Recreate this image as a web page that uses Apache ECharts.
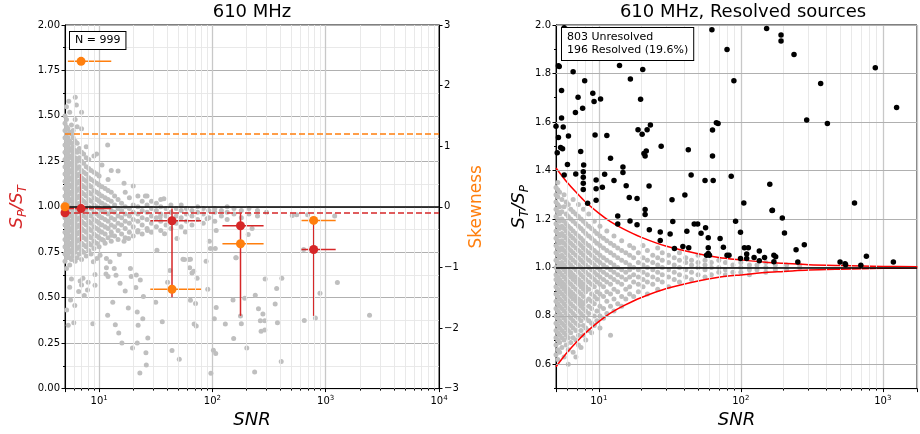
<!DOCTYPE html>
<html><head><meta charset="utf-8">
<script src="https://cdn.jsdelivr.net/npm/echarts@6/dist/echarts.min.js"></script>
<style>html,body{margin:0;padding:0;background:#fff}#c{width:920px;height:434px}</style>
</head><body><div id="c"></div>
<script>
// ---------------- DATA ----------------
// Left panel: S_P/S_T vs SNR, all 999 sources (gray), read column by column
const leftGrayX = [5.0,5.15,5.3,5.5,5.7,5.9,6.15,6.4,6.7,7.0,7.3,7.7,8.1,8.5,9.0,9.5,10.0,10.6,11.3,12.0,12.8,13.7,14.7,15.8,17,18.5,20,22,24,26.5,29,32,35,39,43,48,53,59,66,74,83,93,105,120,135,155,180,210,250,300];
const leftGrayY = [
 [0.70,0.74,0.78,0.82,0.86,0.90,0.94,0.98,1.02,1.06,1.10,1.14,1.18,1.22,1.26,1.30,1.34,1.38,1.42,1.46,1.50],
 [0.66,0.72,0.76,0.80,0.84,0.88,0.92,0.96,1.00,1.04,1.08,1.12,1.16,1.20,1.24,1.28,1.32,1.36,1.40,1.44,1.48,1.55],
 [0.74,0.78,0.82,0.86,0.90,0.94,0.98,1.02,1.06,1.10,1.14,1.18,1.22,1.26,1.30,1.34,1.38,1.43],
 [0.68,0.72,0.76,0.80,0.84,0.88,0.92,0.96,1.00,1.04,1.08,1.12,1.16,1.20,1.24,1.28,1.32,1.36,1.41,1.52],
 [0.71,0.75,0.79,0.83,0.87,0.91,0.95,0.99,1.03,1.07,1.11,1.15,1.19,1.23,1.27,1.31,1.35,1.40,1.45],
 [0.73,0.77,0.81,0.85,0.89,0.93,0.97,1.01,1.05,1.09,1.13,1.17,1.21,1.25,1.29,1.33,1.38,1.42],
 [0.70,0.75,0.79,0.83,0.87,0.91,0.95,0.99,1.03,1.07,1.11,1.15,1.19,1.23,1.27,1.31,1.36,1.48],
 [0.72,0.77,0.81,0.85,0.89,0.93,0.97,1.01,1.05,1.09,1.13,1.17,1.21,1.25,1.30,1.35,1.44],
 [0.74,0.78,0.82,0.86,0.90,0.94,0.98,1.02,1.06,1.10,1.14,1.18,1.22,1.27,1.32],
 [0.71,0.76,0.80,0.84,0.88,0.92,0.96,1.00,1.04,1.08,1.12,1.16,1.20,1.25,1.30,1.43,1.52],
 [0.75,0.79,0.83,0.87,0.91,0.95,0.99,1.03,1.07,1.11,1.15,1.19,1.24,1.29],
 [0.73,0.78,0.82,0.86,0.90,0.94,0.98,1.02,1.06,1.10,1.14,1.18,1.22,1.27,1.33],
 [0.76,0.80,0.84,0.88,0.92,0.96,1.00,1.04,1.08,1.12,1.16,1.21,1.26],
 [0.74,0.79,0.83,0.87,0.91,0.95,0.99,1.03,1.07,1.11,1.15,1.20],
 [0.77,0.81,0.85,0.89,0.93,0.97,1.01,1.05,1.09,1.14,1.19,1.28],
 [0.80,0.84,0.88,0.92,0.96,1.00,1.04,1.08,1.13,1.18,1.29],
 [0.78,0.83,0.87,0.91,0.95,0.99,1.03,1.07,1.12,1.17],
 [0.82,0.86,0.90,0.94,0.98,1.02,1.06,1.11,1.23],
 [0.80,0.85,0.89,0.93,0.97,1.01,1.05,1.10],
 [0.83,0.88,0.92,0.96,1.00,1.04,1.09,1.15],
 [0.81,0.86,0.90,0.94,0.98,1.03,1.08,1.20],
 [0.84,0.89,0.93,0.97,1.01,1.06],
 [0.82,0.87,0.91,0.95,0.99,1.04],
 [0.85,0.90,0.94,0.98,1.02],
 [0.83,0.88,0.92,0.96,1.00,1.08],
 [0.86,0.91,0.95,0.99,1.05],
 [0.84,0.89,0.93,0.97,1.01],
 [0.87,0.92,0.96,1.00,1.06],
 [0.85,0.90,0.94,0.98,1.03],
 [0.88,0.93,0.97,1.01,1.06],
 [0.86,0.91,0.95,0.99,1.03],
 [0.89,0.94,0.98,1.02],
 [0.87,0.92,0.96,1.00,1.04],
 [0.90,0.95,0.99],
 [0.88,0.93,0.97,1.01],
 [0.91,0.95,0.99],
 [0.89,0.94,0.98,1.01],
 [0.92,0.96,0.99],
 [0.90,0.95,0.98],
 [0.93,0.97,1.00],
 [0.91,0.96,0.99],
 [0.94,0.98],
 [0.92,0.97,0.99],
 [0.95,0.98],
 [0.93,0.97,1.00],
 [0.96,0.99],
 [0.94,0.98],
 [0.96,0.99],
 [0.95,0.98],
 [0.97]
];
const leftGrayScatter = [
 [5.17,0.433],[5.34,0.348],[5.98,0.362],[5.6,0.488],[6.1,0.457],[5.5,0.557],[5.7,0.603],[6.8,0.592],[7.0,0.57],[6.6,0.534],
 [7.4,0.512],[7.9,0.543],[8.8,0.357],[8.0,0.585],[9.2,0.568],[9.2,0.627],[9.55,0.716],[11.6,0.716],[11.9,0.403],[13.2,0.475],
 [11.6,0.665],[11.5,0.63],[14.1,0.623],[13.9,0.351],[14.9,0.306],[15.9,0.251],[18.1,0.443],[17.0,0.537],[19.2,0.617],[21.1,0.556],
 [21.7,0.421],[22.1,0.348],[19.7,0.224],[21.7,0.251],[22.9,0.086],[25.9,0.197],[26.1,0.13],[26.9,0.279],[24.3,0.384],[23.1,0.597],
 [24.6,0.507],[31.6,0.475],[36.1,0.368],[40.2,0.585],[44,0.209],[51,0.162],[42.2,0.65],[55,0.712],[64,0.712],[63,0.665],
 [66,0.636],[64,0.486],[71,0.468],[69,0.355],[72,0.344],[97,0.084],[102,0.211],[107,0.193],[104,0.384],[108,0.446],
 [91,0.546],[94,0.81],[96,0.77],[130,0.355],[152,0.488],[154,0.275],[161,0.72],[193,0.497],[201,0.224],[177,0.40],
 [180,0.357],[207,0.847],[239,0.514],[255,0.439],[265,0.373],[279,0.411],[290,0.373],[290,0.322],[269,0.315],[236,0.091],
 [292,0.603],[358,0.466],[369,0.55],[375,0.362],[405,0.149],[410,0.607],[647,0.375],[639,0.765],[811,0.388],[890,0.525],
 [1268,0.583],[2437,0.403],[507,0.952],[555,0.956],[692,0.956],[1200,0.949],
 [10.9,0.816],[12.9,0.843],[16.6,0.81],[18.2,0.825],[21.9,0.862],[26.7,0.87],[32.4,0.761],[37.8,0.852],[48.7,0.825],[57.7,0.862],
 [61.8,0.71],[56.6,0.71],[68.4,0.646],[73.3,0.607],[88,0.70],[106,0.77],[108,0.87],[162,0.72],[224,0.88],[89.7,0.934],
 [34.6,0.944],[10.2,0.734],[12.5,0.698],[15.1,0.738],[18.9,0.661],[21.3,0.625],[15.3,0.579],[13.6,0.661],[12,0.616],[8.9,0.698],
 [7.2,0.607],[11.9,1.34],[14.7,1.197],[16.6,1.13],[20,1.115],[25.6,1.06],[37.3,1.044],[6.16,1.603],[6.3,1.56],[5.4,1.58]
];
// Binned statistics (left panel)
const binSNR     = [6.93, 44, 177, 783];
const binSNRLo   = [5.3, 28.3, 122.6, 612];
const binSNRHi   = [12.8, 80, 283, 1225];
const binMedian  = [0.99, 0.923, 0.896, 0.765];
const binMedLo   = [0.81, 0.503, 0.40, 0.40];
const binMedHi   = [1.18, 0.99, 0.965, 0.93];
const binSkew    = [2.40, -1.36, -0.61, -0.225];
const edgeMedian = [5, 0.967];
const edgeSkew   = [5, 0.0];
const overallMedian = 0.967;
const overallSkew   = 1.21;
const unity = 1.0;
const nLabel = 'N = 999';

// Right panel: S_T/S_P vs SNR
const rightGrayX = [5.0,5.15,5.3,5.5,5.7,5.9,6.1,6.35,6.6,6.9,7.2,7.5,7.8,8.1,8.5,8.9,9.3,9.7,10.2,10.8,11.4,12.1,12.8,13.6,14.5,15.5,16.5,17.6,19,20.5,22,24,26,28,31,34,37,41,45,50,56,62,70,78,88,100,115,130,150,175,210,260];
const rightGrayY = [
 [0.64,0.68,0.71,0.74,0.77,0.80,0.83,0.86,0.89,0.92,0.95,0.97,1.00,1.03,1.06,1.09,1.12,1.15,1.18,1.21,1.24,1.27,1.30,1.33],
 [0.62,0.66,0.70,0.73,0.76,0.79,0.82,0.85,0.88,0.91,0.94,0.96,0.99,1.02,1.05,1.08,1.11,1.14,1.17,1.20,1.23,1.26,1.29,1.32,1.35],
 [0.65,0.69,0.72,0.75,0.78,0.81,0.84,0.87,0.90,0.93,0.95,0.98,1.01,1.04,1.07,1.10,1.13,1.16,1.19,1.22,1.25,1.31],
 [0.67,0.71,0.74,0.77,0.80,0.83,0.86,0.89,0.92,0.94,0.97,1.00,1.02,1.05,1.08,1.11,1.14,1.17,1.20,1.23,1.28],
 [0.63,0.70,0.73,0.76,0.79,0.82,0.85,0.88,0.91,0.93,0.96,0.99,1.01,1.04,1.07,1.10,1.13,1.16,1.19,1.25,1.30],
 [0.68,0.72,0.75,0.78,0.81,0.84,0.87,0.90,0.92,0.95,0.98,1.00,1.03,1.06,1.09,1.12,1.15,1.18,1.22,1.27],
 [0.60,0.66,0.71,0.74,0.77,0.80,0.83,0.86,0.89,0.91,0.94,0.97,0.99,1.02,1.05,1.08,1.11,1.14,1.17,1.21,1.26],
 [0.69,0.73,0.76,0.79,0.82,0.85,0.88,0.90,0.93,0.96,0.98,1.01,1.04,1.07,1.10,1.13,1.16,1.20,1.24],
 [0.65,0.71,0.75,0.78,0.81,0.84,0.87,0.89,0.92,0.95,0.97,1.00,1.03,1.06,1.09,1.12,1.15,1.19,1.23,1.28],
 [0.63,0.70,0.74,0.77,0.80,0.83,0.86,0.88,0.91,0.94,0.96,0.99,1.02,1.05,1.08,1.11,1.14,1.18,1.22],
 [0.68,0.72,0.76,0.79,0.82,0.85,0.87,0.90,0.93,0.95,0.98,1.01,1.04,1.07,1.10,1.13,1.17,1.21,1.26],
 [0.67,0.74,0.78,0.81,0.84,0.86,0.89,0.92,0.94,0.97,1.00,1.03,1.06,1.09,1.12,1.16,1.20],
 [0.72,0.76,0.80,0.83,0.85,0.88,0.91,0.93,0.96,0.99,1.02,1.05,1.08,1.11,1.15,1.19,1.24],
 [0.70,0.75,0.79,0.82,0.86,0.90,0.92,0.95,0.98,1.01,1.04,1.07,1.10,1.14,1.18],
 [0.74,0.78,0.81,0.84,0.87,0.91,0.94,0.97,1.00,1.03,1.06,1.09,1.13,1.17,1.22],
 [0.73,0.77,0.83,0.86,0.89,0.93,0.96,0.99,1.02,1.05,1.08,1.12,1.16],
 [0.76,0.80,0.85,0.88,0.92,0.95,0.98,1.01,1.04,1.07,1.11,1.15,1.19],
 [0.78,0.82,0.87,0.90,0.94,0.97,1.00,1.03,1.06,1.10,1.14],
 [0.75,0.80,0.84,0.89,0.93,0.96,0.99,1.02,1.05,1.09,1.13,1.17],
 [0.79,0.83,0.88,0.92,0.95,0.98,1.01,1.04,1.08,1.12],
 [0.81,0.86,0.90,0.94,0.97,1.00,1.03,1.07,1.11,1.15],
 [0.72,0.84,0.89,0.93,0.96,0.99,1.02,1.06,1.10],
 [0.82,0.87,0.91,0.95,0.98,1.01,1.05,1.09,1.13],
 [0.85,0.90,0.94,0.97,1.00,1.04,1.08],
 [0.84,0.88,0.93,0.96,0.99,1.03,1.07,1.11],
 [0.87,0.91,0.95,0.98,1.02,1.06],
 [0.89,0.92,0.96,0.99,1.01,1.05,1.09],
 [0.88,0.94,0.97,1.00,1.04,1.08],
 [0.90,0.93,0.96,0.99,1.02,1.06],
 [0.92,0.95,0.98,1.01,1.04,1.09],
 [0.89,0.94,0.97,1.00,1.03,1.07],
 [0.93,0.96,0.99,1.02,1.05],
 [0.91,0.95,0.98,1.01,1.04,1.08],
 [0.94,0.97,1.00,1.03,1.06],
 [0.92,0.96,0.99,1.02,1.05],
 [0.95,0.98,1.01,1.04],
 [0.94,0.97,1.00,1.03,1.06],
 [0.96,0.99,1.02,1.04],
 [0.95,0.98,1.01,1.03],
 [0.97,1.00,1.02,1.05],
 [0.96,0.99,1.01,1.03],
 [0.97,1.00,1.02],
 [0.98,1.00,1.03],
 [0.97,0.99,1.02],
 [0.98,1.01],
 [0.98,1.00,1.02],
 [0.97,0.99,1.01],
 [0.99,1.01],
 [0.98,1.00,1.02],
 [0.99,1.01],
 [0.99,1.01],
 [1.00,1.01]
];
const resolvedPts = [
 [5.71,1.989],[5.2,1.832],[5.27,1.829],[6.6,1.807],[7.96,1.770],[5.47,1.730],[7.15,1.702],[9.08,1.718],[9.27,1.684],[10.3,1.695],
 [7.7,1.657],[6.85,1.639],[5.47,1.616],[5.0,1.582],[5.62,1.579],[5.2,1.536],[6.12,1.542],[9.42,1.546],[11.4,1.544],[5.39,1.495],
 [5.56,1.489],[5.1,1.473],[7.46,1.478],[6.02,1.425],[7.83,1.422],[12.1,1.450],[14.0,1.833],[16.7,1.777],[20.4,1.816],[19.7,1.694],
 [18.9,1.568],[20.2,1.549],[21.9,1.568],[23.1,1.587],[20.8,1.470],[21.6,1.480],[21.2,1.460],[27.5,1.500],[42.7,1.485],[44.7,1.381],
 [22.6,1.336],[14.8,1.414],[14.8,1.391],[12.8,1.358],[11.0,1.384],[9.58,1.361],[9.58,1.324],[9.58,1.277],[10.6,1.331],[7.78,1.395],
 [7.78,1.372],[7.78,1.347],[7.78,1.321],[6.89,1.385],[5.71,1.381],[8.35,1.265],[15.6,1.337],[16.4,1.288],[18.6,1.284],[21.2,1.239],
 [21.2,1.218],[13.6,1.212],[32.8,1.279],[40.4,1.299],[56.0,1.358],[63.9,1.358],[62.6,1.980],[67.3,1.597],[63.2,1.567],[63.2,1.460],
 [152,1.986],[192,1.959],[192,1.934],[80.0,1.899],[237,1.878],[885,1.824],[89.4,1.770],[365,1.759],[1250,1.660],[291,1.608],
 [407,1.594],[69.2,1.594],[85.6,1.376],[160,1.343],[105,1.266],[632,1.266],[167,1.236],[196,1.204],
 [13.6,1.179],[16.6,1.191],[18.6,1.176],[22.7,1.155],[27.1,1.146],[27.1,1.111],[31.8,1.138],[33.2,1.189],[34.1,1.078],[39.1,1.086],
 [43.0,1.081],[41.7,1.149],[47.0,1.179],[49.7,1.179],[52.5,1.141],[56.5,1.164],[59.0,1.122],[59.0,1.081],[59.0,1.057],[57.4,1.050],
 [60.2,1.050],[71.5,1.119],[75.4,1.083],[80.0,1.050],[82.6,1.050],[91.9,1.190],[99.5,1.145],[99.5,1.037],[106,1.081],[113,1.081],
 [110,1.055],[110,1.037],[124,1.041],[135,1.068],[135,1.027],[147,1.041],[166,1.235],[171,1.050],[176,1.044],[171,1.023],
 [203,1.142],[245,1.073],[280,1.093],[252,1.022],[500,1.022],[542,1.015],[547,1.011],[700,1.009],[766,1.046],[1186,1.022]
];
// Resolved/unresolved envelope
const envSNR   = [5, 6, 7, 8, 10, 12, 15, 20, 30, 50, 70, 100, 150, 200, 300, 500, 1000, 1750];
const envUpper = [1.41,1.35,1.307,1.272,1.224,1.19,1.158,1.124,1.087,1.056,1.041,1.031,1.021,1.017,1.011,1.0075,1.004,1.0025];
const envLower = [0.59,0.65,0.693,0.728,0.776,0.81,0.842,0.876,0.913,0.944,0.959,0.969,0.979,0.983,0.989,0.9925,0.996,0.9975];
const statLines = ['803 Unresolved', '196 Resolved (19.6%)'];

// ticks
const rightYMajor = [0.6, 0.8, 1.0, 1.2, 1.4, 1.6, 1.8, 2.0];
const rightYMinor = [0.5, 0.7, 0.9, 1.1, 1.3, 1.5, 1.7, 1.9];

// ---------------- CHART ----------------
const FONT = 'DejaVu Sans';
const RED = '#d62728', ORANGE = '#ff7f0e', GRAY = '#bfbfbf';
const MAJ = '#b0b0b0', MIN = '#e6e6e6', VMAJ = '#c8c8c8';

function minorDecades(lo, hi) {
  const out = [];
  for (let d = 1; d <= 1000; d *= 10) for (let m = 2; m <= 9; m++) { const v = m * d; if (v > lo && v < hi) out.push(v); }
  return out;
}
const leftMinorX = minorDecades(5, 10000);
const rightMinorX = minorDecades(5, 1740);

function flatten(xs, ys) { const o = []; xs.forEach((x, i) => ys[i].forEach(y => o.push([x, y]))); return o; }
const leftGray = flatten(leftGrayX, leftGrayY).concat(leftGrayScatter);
const rightGray = flatten(rightGrayX, rightGrayY);

const isDecade = v => Math.abs(Math.log10(v) - Math.round(Math.log10(v))) < 1e-6;
const logLabel = {
  fontFamily: FONT, fontSize: 10, color: '#000', margin: 6,
  formatter: v => isDecade(v) ? '{b|10}{p|' + Math.round(Math.log10(v)) + '}' : '',
  rich: { b: { fontFamily: FONT, fontSize: 10, color: '#000' }, p: { fontFamily: FONT, fontSize: 7, color: '#000', verticalAlign: 'top', padding: [0, 0, 6, 0] } }
};
function xMain(grid, max) {
  return {
    type: 'log', gridIndex: grid, min: 5, max: max, logBase: 10,
    name: '{n|SNR}', nameLocation: 'middle', nameGap: 21,
    nameTextStyle: { rich: { n: { fontFamily: FONT, fontSize: 18, fontStyle: 'italic', color: '#000' } } },
    axisLine: { show: true, onZero: false, lineStyle: { color: '#000', width: 1 } },
    axisTick: { show: true, length: 3.5, lineStyle: { color: '#000' } },
    axisLabel: logLabel,
    splitLine: { show: true, lineStyle: { color: VMAJ, width: 1.3 } }
  };
}
function xMinor(grid, max, vals) {
  return {
    type: 'log', gridIndex: grid, min: 5, max: max, logBase: 10, position: 'bottom',
    axisLine: { show: false }, axisLabel: { show: false }, splitLine: { show: false },
    axisTick: { show: true, length: 2, customValues: vals, lineStyle: { color: '#000' } }
  };
}
function vGridSeries(xi, yi, vals, ymin, ymax) {
  return {
    type: 'line', xAxisIndex: xi, yAxisIndex: yi, data: [], silent: true, z: 1, clip: false,
    markLine: { silent: true, symbol: ['none', 'none'], label: { show: false }, animation: false,
      lineStyle: { color: MIN, width: 0.9, type: 'solid' },
      data: vals.map(v => [{ coord: [v, ymin] }, { coord: [v, ymax] }]) }
  };
}
function hLine(xi, yi, y, color, type, width, z) {
  return {
    type: 'line', xAxisIndex: xi, yAxisIndex: yi, data: [], silent: true, z: z,
    markLine: { silent: true, symbol: ['none', 'none'], label: { show: false }, animation: false,
      lineStyle: { color: color, width: width, type: type, opacity: 1 }, data: [{ yAxis: y }] }
  };
}
function errRender(color, withY) {
  return function (params, api) {
    const y = api.value(1);
    const a = api.coord([api.value(2), y]), b = api.coord([api.value(3), y]);
    const ch = [{ type: 'line', shape: { x1: a[0], y1: a[1], x2: b[0], y2: b[1] }, style: { stroke: color, lineWidth: 1.5 } }];
    if (withY) {
      const c = api.coord([api.value(0), api.value(4)]), d = api.coord([api.value(0), api.value(5)]);
      ch.push({ type: 'line', shape: { x1: c[0], y1: c[1], x2: d[0], y2: d[1] }, style: { stroke: color, lineWidth: 1.5 } });
    }
    return { type: 'group', children: ch };
  };
}

const redErr = binSNR.map((x, i) => [x, binMedian[i], binSNRLo[i], binSNRHi[i], binMedLo[i], binMedHi[i]]);
const orangeErr = binSNR.map((x, i) => [x, binSkew[i], binSNRLo[i], binSNRHi[i]]);

const subName = (a, s1, b, s2) => '{i|' + a + '}{s|' + s1 + '}{i|' + b + '}{s|' + s2 + '}';
const subRich = color => ({
  i: { fontFamily: FONT, fontSize: 18, fontStyle: 'italic', color: color, lineHeight: 24 },
  s: { fontFamily: FONT, fontSize: 12, fontStyle: 'italic', color: color, verticalAlign: 'bottom', lineHeight: 24 }
});
const solid = c => ({ color: c, opacity: 1 });

const option = {
  animation: false,
  backgroundColor: '#fff',
  grid: [
    { left: 65, top: 25, width: 374, height: 366, show: true, borderColor: '#000', borderWidth: 1, backgroundColor: 'transparent' },
    { left: 556, top: 25, width: 366, height: 366, show: true, borderColor: '#000', borderWidth: 1, backgroundColor: 'transparent' }
  ],
  xAxis: [xMain(0, 10000), xMinor(0, 10000, leftMinorX), xMain(1, 1740), xMinor(1, 1740, rightMinorX)],
  yAxis: [
    { type: 'value', gridIndex: 0, min: 0, max: 2, interval: 0.25, position: 'left',
      name: subName('S', 'P', '/S', 'T'), nameLocation: 'middle', nameGap: 36, nameRotate: 90,
      nameTextStyle: { rich: subRich(RED) },
      axisLine: { show: true, lineStyle: { color: '#000' } },
      axisTick: { show: true, length: 3.5, lineStyle: { color: '#000' } },
      minorTick: { show: true, splitNumber: 2, length: 2, lineStyle: { color: '#000' } },
      axisLabel: { fontFamily: FONT, fontSize: 10, color: '#000', margin: 5, formatter: v => v.toFixed(2) },
      splitLine: { show: true, lineStyle: { color: MAJ, width: 1 } },
      minorSplitLine: { show: true, lineStyle: { color: MIN, width: 0.9 } } },
    { type: 'value', gridIndex: 0, min: -3, max: 3, interval: 1, position: 'right',
      name: 'Skewness', nameLocation: 'middle', nameGap: 29, nameRotate: 90,
      nameTextStyle: { fontFamily: FONT, fontSize: 17, color: ORANGE },
      axisLine: { show: true, lineStyle: { color: '#000' } },
      axisTick: { show: true, length: 3.5, lineStyle: { color: '#000' } },
      axisLabel: { fontFamily: FONT, fontSize: 10, color: '#000', margin: 5, formatter: v => v < 0 ? '\u2212' + Math.abs(v) : String(v) },
      splitLine: { show: false } },
    { type: 'value', gridIndex: 1, min: 0.5, max: 2.0, interval: 0.1, position: 'left',
      name: subName('S', 'T', '/S', 'P'), nameLocation: 'middle', nameGap: 24, nameRotate: 90,
      nameTextStyle: { rich: subRich('#000') },
      axisLine: { show: true, lineStyle: { color: '#000' } },
      axisTick: { show: true, length: 3.5, customValues: rightYMajor, lineStyle: { color: '#000' } },
      axisLabel: { fontFamily: FONT, fontSize: 10, color: '#000', margin: 5, customValues: rightYMajor, formatter: v => (Math.round(v * 10) % 2 === 0 && v > 0.55) ? v.toFixed(1) : '' },
      splitLine: { show: true, lineStyle: { color: MIN, width: 0.9 } } },
    { type: 'value', gridIndex: 1, min: 0.5, max: 2.0, interval: 0.1, position: 'left',
      axisLine: { show: false }, axisLabel: { show: false }, splitLine: { show: false },
      axisTick: { show: true, length: 2, customValues: rightYMinor, lineStyle: { color: '#000' } } }
  ],
  graphic: [
    { type: 'text', x: 252, y: 12, style: { text: '610 MHz', font: '18px "DejaVu Sans"', fill: '#000', align: 'center', verticalAlign: 'middle' } },
    { type: 'text', x: 743, y: 12, style: { text: '610 MHz, Resolved sources', font: '18px "DejaVu Sans"', fill: '#000', align: 'center', verticalAlign: 'middle' } },
    { type: 'text', x: 70, y: 32, z: 100, style: { text: nLabel, font: '11px "DejaVu Sans"', fill: '#000', backgroundColor: '#fff', borderColor: '#000', borderWidth: 1, padding: [3, 5, 3, 5] } },
    { type: 'text', x: 562, y: 28, z: 100, style: { text: statLines.join('\n'), font: '11px "DejaVu Sans"', lineHeight: 13, fill: '#000', backgroundColor: '#fff', borderColor: '#000', borderWidth: 1, padding: [3, 5, 3, 5] } }
  ],
  series: [
    // left panel
    vGridSeries(0, 0, leftMinorX, 0, 2),
    { type: 'scatter', xAxisIndex: 0, yAxisIndex: 0, data: leftGray, symbolSize: 5, itemStyle: solid(GRAY), z: 2, silent: true },
    hLine(0, 0, unity, '#000', 'solid', 1.5, 3),
    hLine(0, 0, overallMedian, RED, [6, 3], 1.5, 3),
    hLine(0, 1, overallSkew, ORANGE, [6, 3], 1.5, 3),
    { type: 'custom', xAxisIndex: 0, yAxisIndex: 0, data: redErr, renderItem: errRender(RED, true), z: 4, silent: true },
    { type: 'custom', xAxisIndex: 0, yAxisIndex: 1, data: orangeErr, renderItem: errRender(ORANGE, false), z: 4, silent: true },
    { type: 'scatter', xAxisIndex: 0, yAxisIndex: 0, data: binSNR.map((x, i) => [x, binMedian[i]]).concat([edgeMedian]), symbolSize: 9, itemStyle: solid(RED), z: 5, silent: true, clip: true },
    { type: 'scatter', xAxisIndex: 0, yAxisIndex: 1, data: binSNR.map((x, i) => [x, binSkew[i]]).concat([edgeSkew]), symbolSize: 9, itemStyle: solid(ORANGE), z: 5, silent: true, clip: true },
    // right panel
    vGridSeries(2, 2, rightMinorX, 0.5, 2.0),
    { type: 'line', xAxisIndex: 2, yAxisIndex: 2, data: [], silent: true, z: 1,
      markLine: { silent: true, symbol: ['none', 'none'], label: { show: false }, animation: false,
        lineStyle: { color: MAJ, width: 1, type: 'solid' }, data: rightYMajor.map(v => ({ yAxis: v })) } },
    { type: 'scatter', xAxisIndex: 2, yAxisIndex: 2, data: rightGray, symbolSize: 5, itemStyle: solid(GRAY), z: 2, silent: true },
    hLine(2, 2, unity, '#000', 'solid', 1.5, 3),
    { type: 'line', xAxisIndex: 2, yAxisIndex: 2, data: envSNR.map((x, i) => [x, envUpper[i]]), smooth: 0.3, showSymbol: false, lineStyle: { color: '#ff0000', width: 1.5 }, z: 4, silent: true },
    { type: 'line', xAxisIndex: 2, yAxisIndex: 2, data: envSNR.map((x, i) => [x, envLower[i]]), smooth: 0.3, showSymbol: false, lineStyle: { color: '#ff0000', width: 1.5 }, z: 4, silent: true },
    { type: 'scatter', xAxisIndex: 2, yAxisIndex: 2, data: resolvedPts, symbolSize: 5.5, itemStyle: solid('#000'), z: 5, silent: true }
  ]
};
const chart = echarts.init(document.getElementById('c'), null, { renderer: 'canvas' });
chart.setOption(option);
</script></body></html>
